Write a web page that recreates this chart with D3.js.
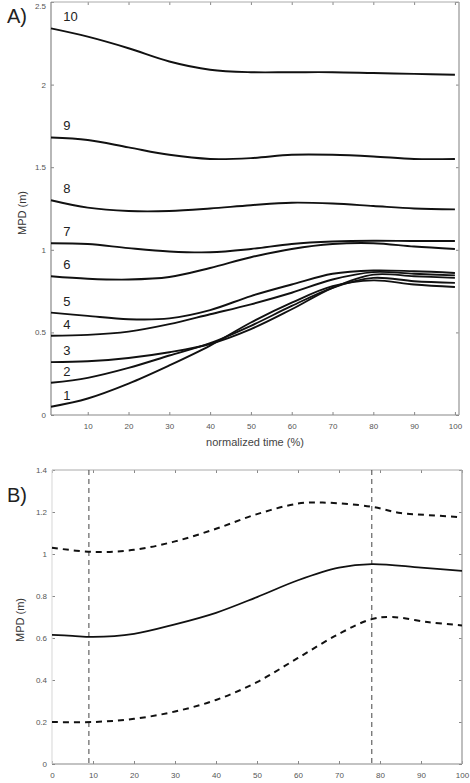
<!DOCTYPE html>
<html>
<head>
<meta charset="utf-8">
<script src="https://cdn.jsdelivr.net/npm/d3@7"></script>
<style>
  body { margin: 0; background: #fff; }
  svg { display: block; font-family: "Liberation Sans", Arial, sans-serif; }
  .tick text { fill: #555; font-size: 8px; }
  .tick line { stroke: #888; }
  .domain { stroke: none; }
</style>
</head>
<body>
<svg id="chart" width="470" height="783"></svg>
<script>
// Panel A: MPD per class, sampled along normalized time (%)
var timeA = [1, 10, 20, 30, 40, 50, 60, 70, 80, 90, 100];
var curveNames = ['1', '2', '3', '4', '5', '6', '7', '8', '9', '10'];
var curve1 = [0.05, 0.10, 0.19, 0.30, 0.42, 0.56, 0.68, 0.78, 0.815, 0.79, 0.775];
var curve2 = [0.195, 0.225, 0.285, 0.36, 0.435, 0.54, 0.66, 0.77, 0.83, 0.81, 0.80];
var curve3 = [0.32, 0.325, 0.345, 0.38, 0.43, 0.52, 0.64, 0.77, 0.85, 0.84, 0.83];
var curve4 = [0.48, 0.485, 0.505, 0.55, 0.61, 0.67, 0.74, 0.82, 0.865, 0.855, 0.845];
var curve5 = [0.62, 0.60, 0.58, 0.585, 0.635, 0.72, 0.79, 0.855, 0.875, 0.87, 0.86];
var curve6 = [0.84, 0.825, 0.82, 0.835, 0.89, 0.955, 1.005, 1.035, 1.04, 1.02, 1.005];
var curve7 = [1.04, 1.035, 1.01, 0.99, 0.985, 1.005, 1.035, 1.05, 1.055, 1.053, 1.053];
var curve8 = [1.30, 1.255, 1.235, 1.235, 1.25, 1.27, 1.285, 1.28, 1.265, 1.25, 1.245];
var curve9 = [1.68, 1.665, 1.62, 1.575, 1.55, 1.555, 1.575, 1.575, 1.565, 1.55, 1.55];
var curve10 = [2.34, 2.29, 2.22, 2.14, 2.09, 2.075, 2.075, 2.075, 2.07, 2.065, 2.06];
var curvesA = [curve1, curve2, curve3, curve4, curve5, curve6, curve7, curve8, curve9, curve10];
var ticksAx = [10, 20, 30, 40, 50, 60, 70, 80, 90, 100];
var ticksAy = [0, 0.5, 1, 1.5, 2, 2.5];

// Panel B: mean MPD with upper / lower bounds
var meanTime = [0, 5, 10, 20, 30, 40, 50, 60, 70, 78, 90, 100];
var meanMPD = [0.615, 0.61, 0.605, 0.62, 0.665, 0.72, 0.795, 0.875, 0.935, 0.952, 0.935, 0.92];
var upperTime = [0, 10, 20, 30, 40, 50, 60, 66, 78, 85, 92, 100];
var upperMPD = [1.03, 1.01, 1.02, 1.06, 1.12, 1.19, 1.24, 1.245, 1.225, 1.195, 1.185, 1.175];
var lowerTime = [0, 10, 20, 30, 40, 50, 60, 70, 78, 83, 92, 100];
var lowerMPD = [0.20, 0.20, 0.215, 0.25, 0.305, 0.39, 0.505, 0.62, 0.69, 0.70, 0.675, 0.66];
var markerTimes = [9, 78];
var ticksBx = [0, 10, 20, 30, 40, 50, 60, 70, 80, 90, 100];
var ticksBy = [0, 0.2, 0.4, 0.6, 0.8, 1, 1.2, 1.4];

var svg = d3.select('#chart');

function drawFrame(g, x, y, xTicks, yTicks, leftColor) {
    var x0 = x.range()[0], x1 = x.range()[1];
    var y0 = y.range()[0], y1 = y.range()[1];
    var tickLen = 3;

    g.append('g')
        .attr('transform', 'translate(0,' + y0 + ')')
        .call(d3.axisBottom(x).tickValues(xTicks).tickSize(-tickLen).tickPadding(8)
            .tickFormat(d3.format('d')));
    g.append('g')
        .attr('transform', 'translate(0,' + y1 + ')')
        .call(d3.axisTop(x).tickValues(xTicks).tickSize(-tickLen).tickFormat(''));
    var left = g.append('g')
        .attr('transform', 'translate(' + x0 + ',0)')
        .call(d3.axisLeft(y).tickValues(yTicks).tickSize(-tickLen).tickPadding(5)
            .tickFormat(function(d) { return String(d); }));
    // Keep the top label inside the page.
    left.selectAll('.tick text')
        .filter(function(d) { return y(d) < 6; })
        .attr('dy', '0.75em');
    g.append('g')
        .attr('transform', 'translate(' + x1 + ',0)')
        .call(d3.axisRight(y).tickValues(yTicks).tickSize(-tickLen).tickFormat(''));

    // Box round the plot.
    g.append('line').attr('x1', x0).attr('x2', x1).attr('y1', y0).attr('y2', y0)
        .attr('stroke', '#888').attr('stroke-width', 1.2);
    g.append('line').attr('x1', x0).attr('x2', x1).attr('y1', y1).attr('y2', y1)
        .attr('stroke', '#aaa');
    g.append('line').attr('x1', x1).attr('x2', x1).attr('y1', y0).attr('y2', y1)
        .attr('stroke', '#aaa').attr('stroke-width', 1.5);
    g.append('line').attr('x1', x0).attr('x2', x0).attr('y1', y0).attr('y2', y1)
        .attr('stroke', leftColor).attr('stroke-width', 1.2);
}

/*
 * Panel A.
 */
var xA = d3.scaleLinear().domain([1, 101]).range([51, 459]);
var yA = d3.scaleLinear().domain([0, 2.5]).range([415, 2]);
var gA = svg.append('g');
drawFrame(gA, xA, yA, ticksAx, ticksAy, '#888');

var lineA = d3.line()
    .x(function(d, i) { return xA(timeA[i]); })
    .y(function(d) { return yA(d); })
    .curve(d3.curveCatmullRom.alpha(0.5));

gA.selectAll('path.curve')
    .data(curvesA)
    .enter()
    .append('path')
    .attr('class', 'curve')
    .attr('d', lineA)
    .attr('fill', 'none')
    .attr('stroke', '#111')
    .attr('stroke-width', 1.9);

gA.selectAll('text.curve-name')
    .data(curvesA)
    .enter()
    .append('text')
    .attr('class', 'curve-name')
    .attr('x', xA(4))
    .attr('y', function(d) { return yA(d[0]) - 7; })
    .attr('font-size', 13)
    .attr('fill', '#222')
    .text(function(d, i) { return curveNames[i]; });

gA.append('text')
    .attr('x', 255).attr('y', 446)
    .attr('text-anchor', 'middle')
    .attr('font-size', 11)
    .attr('fill', '#444')
    .text('normalized time (%)');
gA.append('text')
    .attr('transform', 'translate(26,213) rotate(-90)')
    .attr('text-anchor', 'middle')
    .attr('font-size', 11)
    .attr('fill', '#333')
    .text('MPD (m)');
gA.append('text')
    .attr('x', 7).attr('y', 23)
    .attr('font-size', 20)
    .attr('fill', '#222')
    .text('A)');

/*
 * Panel B.
 */
var xB = d3.scaleLinear().domain([0, 100]).range([52, 462]);
var yB = d3.scaleLinear().domain([0, 1.4]).range([764, 470]);
var gB = svg.append('g');
drawFrame(gB, xB, yB, ticksBx, ticksBy, '#ddd');

gB.selectAll('line.marker')
    .data(markerTimes)
    .enter()
    .append('line')
    .attr('class', 'marker')
    .attr('x1', function(d) { return xB(d); })
    .attr('x2', function(d) { return xB(d); })
    .attr('y1', yB(1.4))
    .attr('y2', yB(0))
    .attr('stroke', '#444')
    .attr('stroke-width', 1)
    .attr('stroke-dasharray', '5,4');

function lineB(times) {
    return d3.line()
        .x(function(d, i) { return xB(times[i]); })
        .y(function(d) { return yB(d); })
        .curve(d3.curveCatmullRom.alpha(0.5));
}

gB.append('path')
    .attr('d', lineB(upperTime)(upperMPD))
    .attr('fill', 'none').attr('stroke', '#111')
    .attr('stroke-width', 2).attr('stroke-dasharray', '6,5');
gB.append('path')
    .attr('d', lineB(lowerTime)(lowerMPD))
    .attr('fill', 'none').attr('stroke', '#111')
    .attr('stroke-width', 2).attr('stroke-dasharray', '6,5');
gB.append('path')
    .attr('d', lineB(meanTime)(meanMPD))
    .attr('fill', 'none').attr('stroke', '#111')
    .attr('stroke-width', 1.8);

gB.append('text')
    .attr('transform', 'translate(24,620) rotate(-90)')
    .attr('text-anchor', 'middle')
    .attr('font-size', 11)
    .attr('fill', '#333')
    .text('MPD (m)');
gB.append('text')
    .attr('x', 7).attr('y', 502)
    .attr('font-size', 20)
    .attr('fill', '#222')
    .text('B)');
</script>
</body>
</html>
